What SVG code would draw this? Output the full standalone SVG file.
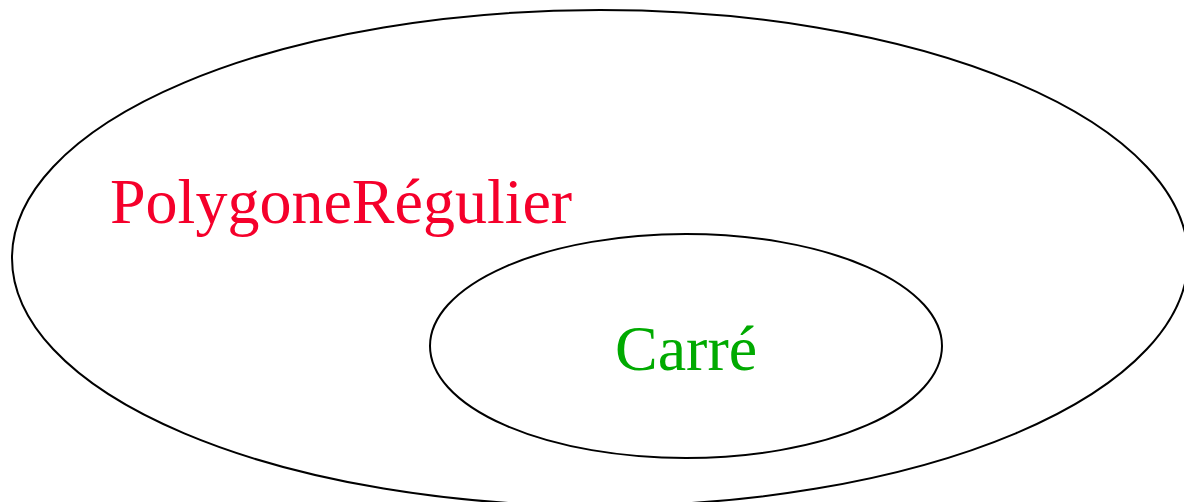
<svg xmlns="http://www.w3.org/2000/svg" width="1184" height="502" viewBox="0 0 1184 502">
<style>
.set{fill:none;stroke:#000;stroke-width:2}
.lbl{font-family:"Liberation Serif","Times New Roman",serif;font-size:64px}
</style>
<rect width="1184" height="502" fill="#fff"/>
<g id="polygoneRegulier">
<ellipse class="set" cx="600" cy="258" rx="588" ry="248"/>
<text class="lbl" x="110" y="223" fill="#f5002b">PolygoneRégulier</text>
</g>
<g id="carre">
<ellipse class="set" cx="686" cy="346" rx="256" ry="112"/>
<text class="lbl" x="615" y="370" fill="#00aa00">Carré</text>
</g>
<g id="connectors"></g>
</svg>
